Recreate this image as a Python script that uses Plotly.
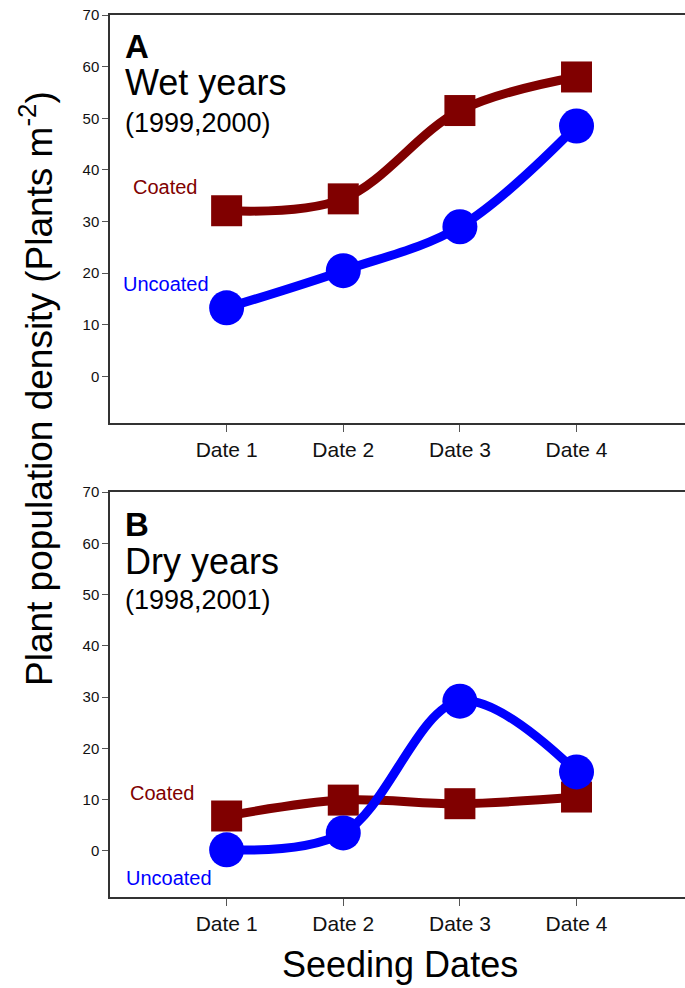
import plotly.graph_objects as go

dates = ["Date 1", "Date 2", "Date 3", "Date 4"]
xpos = [1, 2, 3, 4]
wet_coated = [32.1, 34.4, 51.5, 58.0]
wet_uncoated = [13.3, 20.5, 29.0, 48.5]
dry_coated = [6.8, 9.9, 9.2, 10.5]
dry_uncoated = [0.2, 3.5, 29.2, 15.4]
yticks = [0, 10, 20, 30, 40, 50, 60, 70]

RED = "#800000"
BLUE = "#0000FF"
W, H = 685, 988
L, R, T, B = 110, 0, 0, 0
F = "Liberation Sans, Arial"

fig = go.Figure()

def add(x, y, color, symbol, size, xa, ya):
    fig.add_trace(go.Scatter(
        x=x, y=y, mode="lines+markers",
        line=dict(color=color, width=9, shape="spline", smoothing=1.0),
        marker=dict(color=color, symbol=symbol, size=size, line=dict(width=0)),
        xaxis=xa, yaxis=ya, showlegend=False, cliponaxis=False))

add(xpos, wet_coated, RED, "square", 31, "x", "y")
add(xpos, wet_uncoated, BLUE, "circle", 35, "x", "y")
add(xpos, dry_coated, RED, "square", 31, "x2", "y2")
add(xpos, dry_uncoated, BLUE, "circle", 35, "x2", "y2")

def yd(top, bottom):
    return [1 - bottom / H, 1 - top / H]

axis_common = dict(showline=True, linecolor="#333", linewidth=1.5, ticks="outside",
                   ticklen=6, tickcolor="#555", showgrid=False, zeroline=False,
                   automargin=False,
                   tickfont=dict(family=F, size=15, color="#111"))

xcommon = dict(axis_common, range=[0, 4.93], tickvals=xpos, ticktext=dates,
               mirror=True, ticklen=7, tickfont=dict(family=F, size=21, color="#111"))
ycommon = dict(axis_common, range=[-9, 70], tickvals=yticks)

fig.update_layout(
    template=None,
    width=W, height=H, autosize=False,
    margin=dict(l=L, r=R, t=T, b=B, pad=0, autoexpand=False),
    plot_bgcolor="white", paper_bgcolor="white",
    xaxis=dict(xcommon, domain=[0, 1], anchor="y"),
    yaxis=dict(ycommon, domain=yd(15, 423), anchor="x"),
    xaxis2=dict(xcommon, domain=[0, 1], anchor="y2"),
    yaxis2=dict(ycommon, domain=yd(492, 897), anchor="x2"),
)

def px2x(px):
    return (px - L) / (W - L - R)

def px2y(py):
    return (H - B - py) / (H - T - B)

def ann(text, x, y, size, color="black", bold=False, **kw):
    d = dict(text=("<b>%s</b>" % text) if bold else text,
             x=px2x(x), y=px2y(y), xref="paper", yref="paper",
             xanchor="left", yanchor="middle", showarrow=False,
             font=dict(family=F, size=size, color=color))
    d.update(kw)
    fig.add_annotation(**d)

ann("A", 123, 47, 33, bold=True)
ann("Wet years", 123, 83, 36)
ann("(1999,2000)", 123, 123, 27)
ann("Coated", 131, 187, 20, RED)
ann("Uncoated", 121, 284, 20, BLUE)

ann("B", 123, 524, 33, bold=True)
ann("Dry years", 123, 561, 36)
ann("(1998,2001)", 123, 600, 27)
ann("Coated", 128, 793, 20, RED)
ann("Uncoated", 124, 878, 20, BLUE)

ann("Plant population density (Plants m<sup>-2</sup>)", 37, 389, 37,
    textangle=-90, xanchor="center")
ann("Seeding Dates", 400, 964, 36, xanchor="center")

fig.write_html("out.html", config={"displayModeBar": False},
               post_script="document.body.style.margin='0';document.body.style.overflow='hidden';")
